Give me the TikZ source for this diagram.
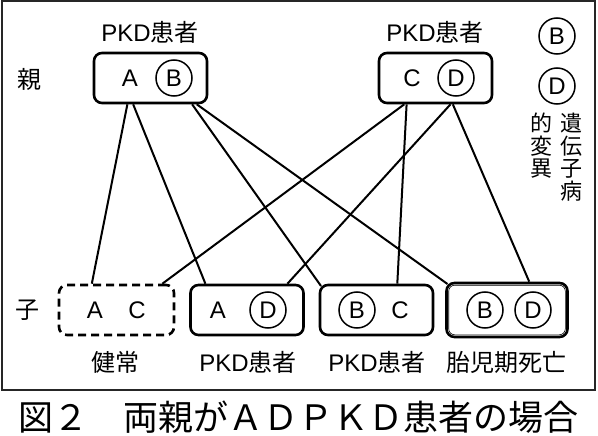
\documentclass[tikz,border=0pt]{standalone}
\usepackage{fontspec}
\setmainfont{Liberation Sans}
\newfontfamily\jp{Noto Sans CJK JP}
\usetikzlibrary{calc}

\begin{document}
\begin{tikzpicture}[x=1pt, y=-1pt,
    box/.style={draw, line width=2.6pt, rounded corners=8pt, minimum width=113pt, minimum height=50pt, inner sep=0pt},
    gene/.style={circle, draw, line width=1.5pt, minimum size=36pt, inner sep=0pt, font=\fontsize{24}{24}\selectfont},
    allele/.style={inner sep=0pt, font=\fontsize{24}{24}\selectfont},
    lbl/.style={inner sep=0pt, font=\fontsize{24}{24}\selectfont},
    link/.style={line width=2pt}]

    \useasboundingbox (0,0) rectangle (598,436);

    % Outer frame
    \draw[line width=1.5pt, black!85] (2,1) rectangle (595,390);

    % Parents
    \node[lbl] (oya) at (29,79) {\jp 親};
    \node[box] (p1) at (150.5,78) {};
    \node[allele] (p1a) at (130,78) {A};
    \node[gene] (p1b) at (174,78) {B};
    \node[lbl] (p1l) at (150,32) {PKD{\jp 患者}};

    \node[box] (p2) at (435.5,78) {};
    \node[allele] (p2c) at (412,78) {C};
    \node[gene] (p2d) at (456,78) {D};
    \node[lbl] (p2l) at (435,32) {PKD{\jp 患者}};

    % Legend
    \node[gene] (lb) at (557,36) {B};
    \node[gene] (ld) at (557,86) {D};
    \node[lbl, anchor=north, align=center, font=\jp\fontsize{22}{22.5}\selectfont] (lg1) at (571,113) {遺\\伝\\子\\病};
    \node[lbl, anchor=north, align=center, font=\jp\fontsize{22}{22.5}\selectfont] (lg2) at (541,113) {的\\変\\異};

    % Children
    \node[lbl] (ko) at (28,310) {\jp 子};
    \node[box, dashed, dash pattern=on 8pt off 5pt, minimum width=115pt] (c1) at (116.5,310) {};
    \node[allele] (c1a) at (95,310) {A};
    \node[allele] (c1c) at (137,310) {C};
    \node[lbl] (c1l) at (115,362) {\jp 健常};

    \node[box] (c2) at (247,310) {};
    \node[allele] (c2a) at (218,310) {A};
    \node[gene] (c2d) at (268,310) {D};
    \node[lbl] (c2l) at (248,362) {PKD{\jp 患者}};

    \node[box] (c3) at (376.5,310) {};
    \node[gene] (c3b) at (357,310) {B};
    \node[allele] (c3c) at (400,310) {C};
    \node[lbl] (c3l) at (377,362) {PKD{\jp 患者}};

    \node[box, minimum width=121pt, minimum height=54pt] (c4) at (507,310) {};
    \draw[line width=0.6pt, rounded corners=6pt] ($(c4.north west)+(3.5,3.5)$) rectangle ($(c4.south east)+(-3.5,-3.5)$);
    \node[gene] (c4b) at (485,310) {B};
    \node[gene] (c4d) at (533,310) {D};
    \node[lbl] (c4l) at (506,362) {\jp 胎児期死亡};

    % Inheritance lines
    \draw[link] ($(p1.south west)!0.30!(p1.south east)$) -- ($(c1.north west)!0.29!(c1.north east)$);
    \draw[link] ($(p1.south west)!0.35!(p1.south east)$) -- ($(c2.north west)!0.14!(c2.north east)$);
    \draw[link] ($(p1.south west)!0.86!(p1.south east)$) -- ($(c3.north west)+(2.3,2.3)$);
    \draw[link] ($(p1.south west)!0.90!(p1.south east)$) -- ($(c4.north west)+(2.3,2.3)$);
    \draw[link] ($(p2.south west)!0.23!(p2.south east)$) -- ($(c1.north west)!0.89!(c1.north east)$);
    \draw[link] ($(p2.south west)!0.25!(p2.south east)$) -- ($(c3.north west)!0.68!(c3.north east)$);
    \draw[link] ($(p2.south west)!0.63!(p2.south east)$) -- ($(c2.north west)!0.85!(c2.north east)$);
    \draw[link] ($(p2.south west)!0.65!(p2.south east)$) -- ($(c4.north west)!0.68!(c4.north east)$);

    % Caption
    \node[inner sep=0pt, font=\jp\fontsize{35}{35}\selectfont] (cap) at (299,417) {図２　両親がＡＤＰＫＤ患者の場合};

\end{tikzpicture}
\end{document}
